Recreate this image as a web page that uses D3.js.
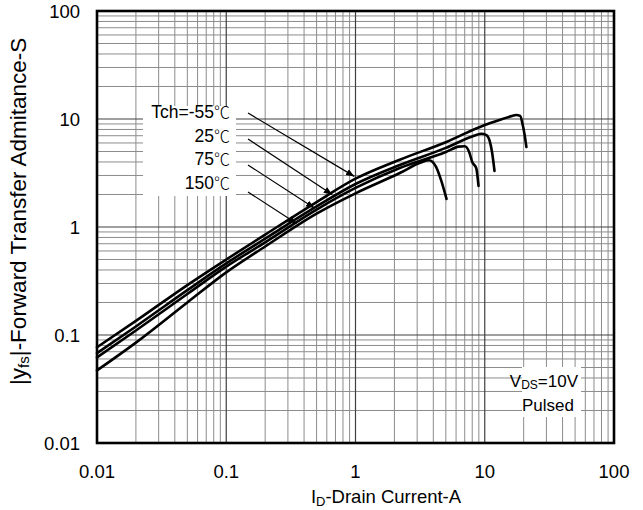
<!DOCTYPE html>
<html>
<head>
<meta charset="utf-8">
<script src="https://cdn.jsdelivr.net/npm/d3@7"></script>
<style>
  html, body { margin: 0; padding: 0; background: #fff; }
  svg { display: block; }
  text { font-family: "Liberation Sans", Arial, "Noto Sans CJK JP", sans-serif; fill: #000; }
  .cjk { font-family: "Noto Sans CJK JP", "Noto Sans CJK SC", sans-serif; }
</style>
</head>
<body>
<svg id="chart" width="643" height="510"></svg>
<script>
// Forward transfer admittance |yfs| versus drain current, by channel temperature
const seriesPrefix = ["Tch=-55", "25", "75", "150"];
const degreeUnit = "\u2103";

const currentM55 = [0.01, 0.02, 0.05, 0.1, 0.2, 0.5, 1, 2.2, 5, 10, 13, 16, 17.5, 18.8, 19.6, 20.4, 21];
const yfsM55     = [0.077, 0.135, 0.29, 0.50, 0.85, 1.7, 2.8, 4.2, 6.1, 8.8, 9.8, 10.6, 10.9, 10.7, 9.0, 7.0, 5.5];

const current25 = [0.01, 0.02, 0.05, 0.1, 0.2, 0.5, 1, 2.2, 5, 8, 9.4, 10.3, 10.9, 11.4, 11.9];
const yfs25     = [0.068, 0.12, 0.26, 0.46, 0.78, 1.55, 2.5, 3.75, 5.4, 6.9, 7.3, 7.1, 6.3, 4.9, 3.3];

const current75 = [0.01, 0.02, 0.05, 0.1, 0.2, 0.5, 1, 2.2, 5, 6.3, 7.0, 7.6, 8.0, 8.6, 8.95];
const yfs75     = [0.062, 0.11, 0.24, 0.43, 0.72, 1.45, 2.3, 3.52, 4.95, 5.55, 5.6, 4.9, 4.0, 3.5, 2.4];

const current150 = [0.01, 0.02, 0.05, 0.1, 0.2, 0.5, 1, 2.2, 3.2, 3.7, 4.2, 4.6, 5.06];
const yfs150     = [0.047, 0.085, 0.2, 0.38, 0.66, 1.33, 2.05, 3.16, 3.95, 4.15, 3.6, 2.7, 1.82];

const xTicks = [0.01, 0.1, 1, 10, 100];
const xTickLabels = ["0.01", "0.1", "1", "10", "100"];
const yTicks = [0.01, 0.1, 1, 10, 100];
const yTickLabels = ["0.01", "0.1", "1", "10", "100"];

// Arrow pointer for each label: the current at which it touches its curve
const pointerCurrent = [0.98, 0.66, 0.48, 0.35];

const series = [
  { name: seriesPrefix[0], x: currentM55, y: yfsM55 },
  { name: seriesPrefix[1], x: current25,  y: yfs25 },
  { name: seriesPrefix[2], x: current75,  y: yfs75 },
  { name: seriesPrefix[3], x: current150, y: yfs150 }
];

const svg = d3.select("#chart");
const margin = { left: 97, top: 11, right: 29, bottom: 67 };
const W = 643, H = 510;
const x0 = margin.left, x1 = W - margin.right, y0 = margin.top, y1 = H - margin.bottom;

const x = d3.scaleLog().domain([0.01, 100]).range([x0, x1]);
const y = d3.scaleLog().domain([0.01, 100]).range([y1, y0]);

// minor + major grid
const minors = [];
for (let e = -2; e < 2; e++) for (let m = 2; m <= 9; m++) minors.push(m * Math.pow(10, e));
const grid = svg.append("g");
grid.selectAll("line.vx").data(minors).enter().append("line")
  .attr("x1", d => x(d)).attr("x2", d => x(d)).attr("y1", y0).attr("y2", y1)
  .attr("stroke", "#8c8c8c").attr("stroke-width", 1);
grid.selectAll("line.hy").data(minors).enter().append("line")
  .attr("y1", d => y(d)).attr("y2", d => y(d)).attr("x1", x0).attr("x2", x1)
  .attr("stroke", "#8c8c8c").attr("stroke-width", 1);
grid.selectAll("line.vM").data(xTicks.slice(1, -1)).enter().append("line")
  .attr("x1", d => x(d)).attr("x2", d => x(d)).attr("y1", y0).attr("y2", y1)
  .attr("stroke", "#404040").attr("stroke-width", 1.2);
grid.selectAll("line.hM").data(yTicks.slice(1, -1)).enter().append("line")
  .attr("y1", d => y(d)).attr("y2", d => y(d)).attr("x1", x0).attr("x2", x1)
  .attr("stroke", "#404040").attr("stroke-width", 1.2);

// curves
const line = d3.line().x(d => x(d[0])).y(d => y(d[1])).curve(d3.curveMonotoneX);
svg.append("g").selectAll("path").data(series).enter().append("path")
  .attr("d", s => line(s.x.map((v, i) => [v, s.y[i]])))
  .attr("fill", "none").attr("stroke", "#000").attr("stroke-width", 2.6)
  .attr("stroke-linejoin", "round").attr("stroke-linecap", "round");

// frame
svg.append("rect").attr("x", x0).attr("y", y0).attr("width", x1 - x0).attr("height", y1 - y0)
  .attr("fill", "none").attr("stroke", "#000").attr("stroke-width", 2.6);

// axes tick labels
const fs = 18.5;
svg.append("g").selectAll("text").data(xTicks).enter().append("text")
  .attr("x", d => x(d)).attr("y", y1 + 35).attr("text-anchor", "middle")
  .attr("font-size", fs).text((d, i) => xTickLabels[i]);
svg.append("g").selectAll("text").data(yTicks).enter().append("text")
  .attr("x", x0 - 17).attr("y", d => y(d) + 6.5).attr("text-anchor", "end")
  .attr("font-size", fs).text((d, i) => yTickLabels[i]);

// axis titles
const xt = svg.append("text").attr("x", 386).attr("y", H - 7)
  .attr("text-anchor", "middle").attr("font-size", fs);
xt.append("tspan").text("I");
xt.append("tspan").attr("font-size", 13).attr("dy", 3).text("D");
xt.append("tspan").attr("dy", -3).text("-Drain Current-A");

const yt = svg.append("text").attr("transform", "translate(26, 385) rotate(-90)")
  .attr("text-anchor", "start").attr("font-size", 22.5);
yt.append("tspan").text("|y");
yt.append("tspan").attr("font-size", 15).attr("dy", 3).text("fs");
yt.append("tspan").attr("dy", -3).text("|-Forward Transfer Admitance-S");

// temperature labels with white backing and pointers
const lab = svg.append("g");
lab.append("rect").attr("x", 143).attr("y", 106).attr("width", 93).attr("height", 90).attr("fill", "#fff");
const labelY = [118, 142, 165, 189];
series.forEach((s, i) => {
  const t = lab.append("text").attr("x", 230).attr("y", labelY[i]).attr("text-anchor", "end")
    .attr("font-size", 17.5);
  t.append("tspan").text(s.name);
  t.append("tspan").attr("class", "cjk").attr("font-size", 16).attr("font-weight", 300).text(degreeUnit);
});
svg.append("defs").append("marker").attr("id", "ah").attr("viewBox", "0 0 10 10")
  .attr("refX", 10).attr("refY", 5).attr("markerWidth", 7).attr("markerHeight", 7)
  .attr("orient", "auto").append("path").attr("d", "M0,1 L10,5 L0,9 Z").attr("fill", "#000");
const startY = [113, 139, 165, 192];
series.forEach((s, i) => {
  const cx = pointerCurrent[i];
  // curve value at the pointer current by log interpolation
  const xs = s.x, ys = s.y;
  let k = 0; while (k < xs.length - 2 && xs[k + 1] < cx) k++;
  const t = (Math.log(cx) - Math.log(xs[k])) / (Math.log(xs[k + 1]) - Math.log(xs[k]));
  const cy = Math.exp(Math.log(ys[k]) + t * (Math.log(ys[k + 1]) - Math.log(ys[k])));
  svg.append("line").attr("x1", 248).attr("y1", startY[i])
    .attr("x2", x(cx)).attr("y2", y(cy) - 3)
    .attr("stroke", "#000").attr("stroke-width", 1.2).attr("marker-end", "url(#ah)");
});

// test condition note
const note = svg.append("g");
note.append("rect").attr("x", 522).attr("y", 367).attr("width", 59).attr("height", 50).attr("fill", "#fff");
const vt = note.append("text").attr("x", 578).attr("y", 387).attr("text-anchor", "end").attr("font-size", 17);
vt.append("tspan").text("V");
vt.append("tspan").attr("font-size", 12).attr("dy", 2).text("DS");
vt.append("tspan").attr("dy", -2).text("=10V");
note.append("text").attr("x", 548).attr("y", 411).attr("text-anchor", "middle").attr("font-size", 17).text("Pulsed");
</script>
</body>
</html>
